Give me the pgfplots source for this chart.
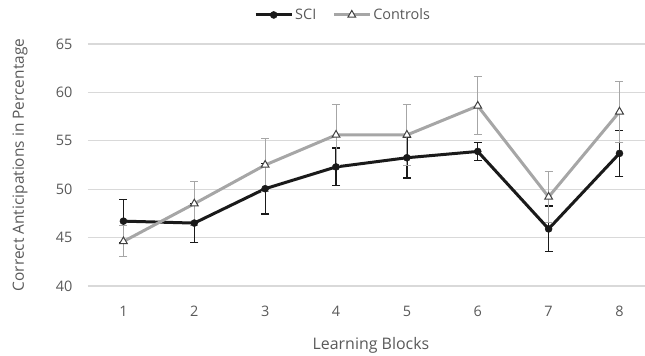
\documentclass[border=0pt]{standalone}
\usepackage{fontspec}
\setmainfont{Open Sans}
\usepackage{pgfplots}
\pgfplotsset{compat=1.18}
\definecolor{txt}{HTML}{595959}
\definecolor{gridc}{HTML}{D9D9D9}
\definecolor{ctl}{HTML}{A6A6A6}
\definecolor{sci}{HTML}{1A1A1A}
\begin{document}
\begin{tikzpicture}
\begin{axis}[name=ax, scale only axis, width=557bp, height=242bp,
  xmin=0.5, xmax=8.36, ymin=40, ymax=65,
  ytick={40,45,...,65}, xtick={1,...,8},
  axis line style={draw=none}, tick style={draw=none},
  ymajorgrids, major grid style={gridc, line width=1.2bp},
  /pgf/number format/assume math mode=true,
  ticklabel style={font=\fontsize{14.5}{16}\selectfont, text=txt},
  yticklabel style={anchor=east, xshift=-12bp},
  xticklabel style={anchor=center, yshift=-25bp},
  every axis x label/.style={at={(rel axis cs:0.508,0)}, anchor=center, yshift=-59bp, font=\fontsize{16}{18}\selectfont, text=txt},
  every axis y label/.style={at={(rel axis cs:-0.1221,0.5)}, rotate=90, anchor=center, font=\fontsize{15.5}{18}\selectfont, text=txt},
  xlabel={Learning Blocks},
  ylabel={Correct Anticipations in Percentage},
  legend columns=2,
  legend style={draw=none, fill=none, at={(0.458,1.12)}, anchor=center, font=\fontsize{14.5}{16}\selectfont, text=txt,
    /tikz/every even column/.append style={column sep=14bp}},
  legend image code/.code={\draw[mark repeat=2, mark phase=2] plot coordinates {(0bp,0bp) (18bp,0bp) (36bp,0bp)};},
]
\addplot[sci, line width=3bp, mark=*, mark size=3.5bp, mark options={fill=sci, draw=sci, line width=0.5bp},
  error bars/.cd, y dir=both, y explicit,
  error bar style={sci, line width=1.3bp}, error mark options={sci, line width=1.3bp, mark size=4bp, rotate=90}]
coordinates {
(1,46.7) +- (0,2.2)
(2,46.5) +- (0,2.0)
(3,50.05) +- (0,2.6)
(4,52.3) +- (0,1.95)
(5,53.25) +- (0,2.1)
(6,53.9) +- (0,0.9)
(7,45.9) +- (0,2.35)
(8,53.7) +- (0,2.4)
};
\addlegendentry{SCI}
\addplot[ctl, line width=3bp, mark=triangle*, mark size=4.5bp, mark options={fill=white, draw=black!75, line width=1bp},
  error bars/.cd, y dir=both, y explicit,
  error bar style={ctl, line width=1bp}, error mark options={ctl, line width=1bp, mark size=4bp, rotate=90}]
coordinates {
(1,44.6) +- (0,1.6)
(2,48.5) +- (0,2.3)
(3,52.5) +- (0,2.7)
(4,55.6) +- (0,3.1)
(5,55.6) +- (0,3.2)
(6,58.6) +- (0,3.0)
(7,49.2) +- (0,2.6)
(8,58.0) +- (0,3.15)
};
\addlegendentry{Controls}
\end{axis}
\pgfresetboundingbox
\path[use as bounding box] ([shift={(-88bp,-70bp)}]ax.south west) rectangle ++(645bp,356bp);
\end{tikzpicture}
\end{document}
